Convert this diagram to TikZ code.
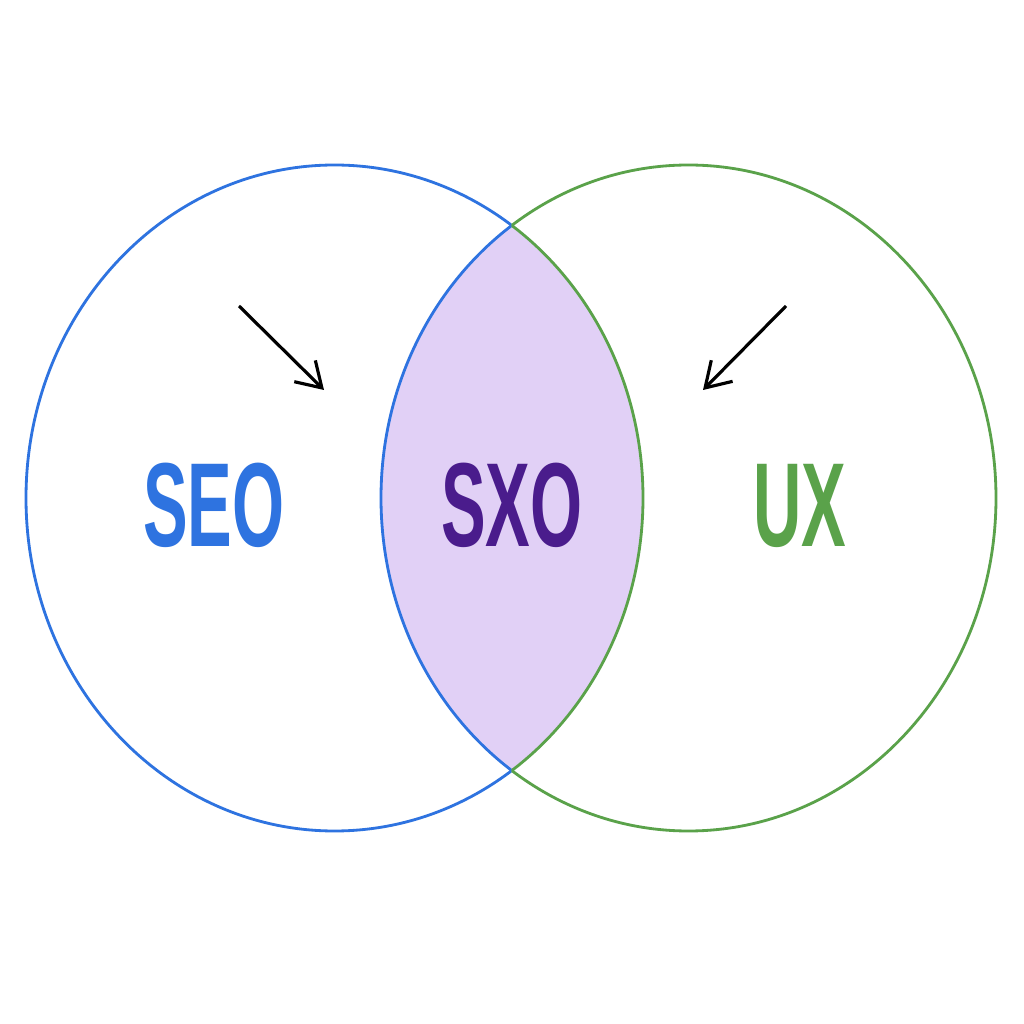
\documentclass[tikz,border=0pt]{standalone}
\usepackage{fontspec}
\newfontfamily\condfont[FakeStretch=0.56]{Liberation Sans}
\usetikzlibrary{positioning,arrows.meta}

\definecolor{seoblue}{HTML}{2E73E0}
\definecolor{uxgreen}{HTML}{5AA24A}
\definecolor{sxopurple}{HTML}{4A1C8C}
\definecolor{lensfill}{HTML}{E1D0F6}

\begin{document}
\begin{tikzpicture}[
	lbl/.style={inner sep=0pt, font=\condfont\bfseries\fontsize{34}{34}\selectfont},
	ring/.style={line width=0.8pt},
	pointer/.style={-{Straight Barb[length=2.4mm,width=3mm]}, line width=0.9pt}]
	\useasboundingbox[fill=white] (0,0) rectangle (10.24,10.24);

	% the two sets
	\coordinate (cl) at (3.345,5.26);
	\coordinate (cr) at (6.885,5.26);

	% overlap
	\begin{scope}
		\clip (cl) ellipse [x radius=3.085, y radius=3.33];
		\fill[lensfill] (cr) ellipse [x radius=3.075, y radius=3.33];
	\end{scope}

	% left of the crossing points everything is blue, right of it green
	\begin{scope}
		\clip (0,0) rectangle (5.115,10.24);
		\draw[ring, seoblue] (cl) ellipse [x radius=3.085, y radius=3.33];
		\draw[ring, seoblue] (cr) ellipse [x radius=3.075, y radius=3.33];
	\end{scope}
	\begin{scope}
		\clip (5.115,0) rectangle (10.24,10.24);
		\draw[ring, uxgreen] (cl) ellipse [x radius=3.085, y radius=3.33];
		\draw[ring, uxgreen] (cr) ellipse [x radius=3.075, y radius=3.33];
	\end{scope}

	\node[lbl, text=sxopurple] (sxo) at (5.12,5.185) {SXO};
	\node[lbl, text=seoblue] (seo) at (2.14,5.185) {SEO};
	\node[lbl, text=uxgreen] (ux) at (7.995,5.185) {UX};

	\coordinate (pl0) at (2.39,7.18);
	\coordinate (pl1) at (3.24,6.34);
	\coordinate (pr0) at (7.86,7.18);
	\coordinate (pr1) at (7.03,6.34);
	\draw[pointer] (pl0) -- (pl1);
	\draw[pointer] (pr0) -- (pr1);
\end{tikzpicture}
\end{document}
